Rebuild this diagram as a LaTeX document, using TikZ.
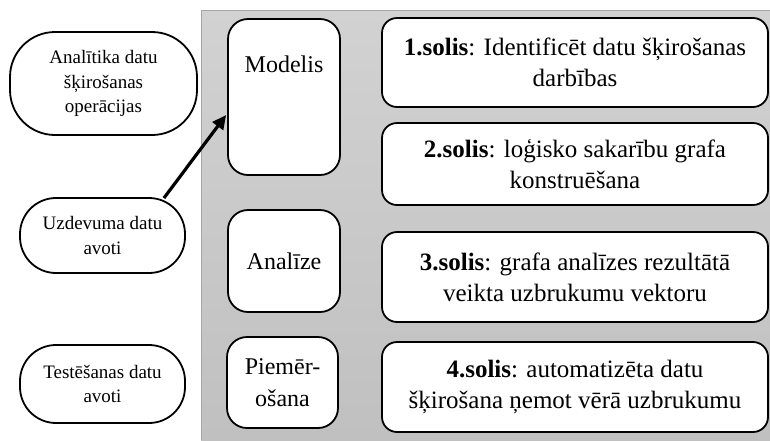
\documentclass[tikz,border=0pt]{standalone}
\usepackage{fontspec}
\setmainfont{Liberation Serif}
\usetikzlibrary{calc,arrows.meta}
\definecolor{paneltop}{RGB}{210,210,210}
\definecolor{panelbot}{RGB}{192,192,192}
\begin{document}
\begin{tikzpicture}[x=1pt,y=-1pt,
  box/.style={draw=black, line width=1.8pt, fill=white, inner sep=0pt, align=center},
  srcbox/.style={box, rounded corners=36pt, font=\fontsize{19}{24.5}\selectfont},
  phasebox/.style={box, rounded corners=20pt, font=\fontsize{24}{32}\selectfont},
  stepbox/.style={box, rounded corners=15pt, minimum width=386pt,
    font=\fontsize{25}{31}\selectfont},
  flow/.style={line width=3.2pt, -{Triangle[length=14pt,width=13pt]}}]
\useasboundingbox (0,0) rectangle (770,440);

% shaded background panel
\shade[top color=paneltop, bottom color=panelbot] (201,10) rectangle (770,440);
\draw[gray!70, line width=0.6pt] (201,440) -- (201,10) -- (770,10);

% data sources
\node[srcbox, minimum width=187pt, minimum height=103pt, rounded corners=45pt]
  (anal) at (103.5,83.5) {Analītika datu\\šķirošanas\\operācijas};
\node[srcbox, minimum width=165pt, minimum height=75pt]
  (uzd) at (102.5,235.5) {Uzdevuma datu\\avoti};
\node[srcbox, minimum width=165pt, minimum height=78pt]
  (test) at (102.5,384) {Testēšanas datu\\avoti};

% phases
\node[phasebox, minimum width=112pt, minimum height=156pt] (modelis) at (284,97) {};
\node[font=\fontsize{24}{32}\selectfont] (modelistxt) at (284,64) {Modelis};
\node[phasebox, minimum width=112pt, minimum height=102pt] (analize) at (284,261) {Analīze};
\node[phasebox, minimum width=111pt, minimum height=91pt] (piem) at (282.5,382.5) {Piemēr-\\ošana};

% steps
\node[stepbox, minimum height=89pt] (s1) at (575,62.5)
  {\textbf{1.solis}: Identificēt datu šķirošanas\\darbības};
\node[stepbox, minimum height=82pt] (s2) at (575,164)
  {\textbf{2.solis}: loģisko sakarību grafa\\konstruēšana};
\node[stepbox, minimum height=90pt] (s3) at (575,277)
  {\textbf{3.solis}: grafa analīzes rezultātā\\veikta uzbrukumu vektoru};
\node[stepbox, minimum height=90pt] (s4) at (575,387)
  {\textbf{4.solis}: automatizēta datu\\šķirošana ņemot vērā uzbrukumu};

% input arrow
\coordinate (uzdout) at ($(uzd.north east)+(-22,1)$);
\coordinate (modin) at ($(modelis.west)+(-1,18)$);
\draw[flow] (uzdout) -- (modin);
\end{tikzpicture}
\end{document}
